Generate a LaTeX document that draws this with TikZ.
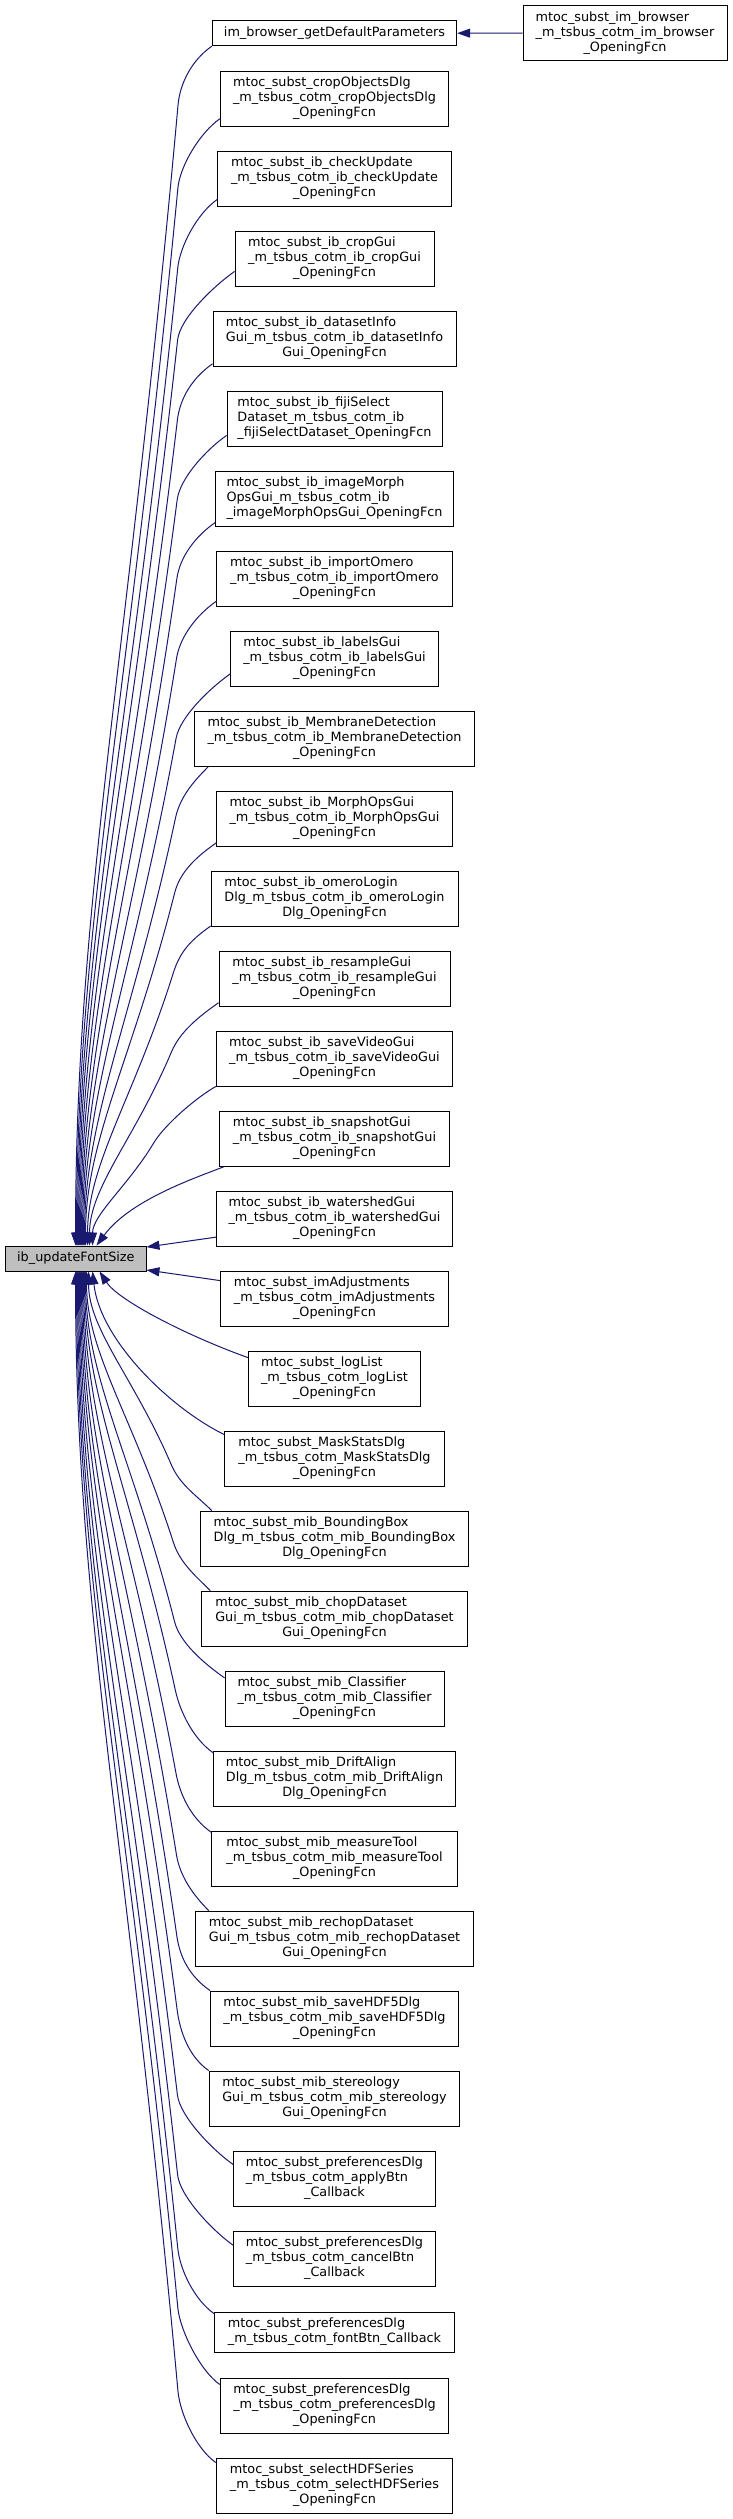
\documentclass[tikz,border=0pt]{standalone}
\usepackage{fontspec}
\newfontfamily\dejavu{DejaVu Sans}
\usetikzlibrary{arrows.meta,calc}
\definecolor{edgeblue}{HTML}{191970}
\definecolor{rootgray}{HTML}{BFBFBF}
\newcommand\threel[3]{\begin{tabular}{@{}l@{}}#1\\#2\\\multicolumn{1}{@{}c@{}}{#3}\end{tabular}}
\newcommand\twol[2]{\begin{tabular}{@{}l@{}}#1\\\multicolumn{1}{@{}c@{}}{#2}\end{tabular}}
\newcommand\edgeup[4]{%
  \coordinate (eS) at #1;
  \coordinate (eA) at #3;
  \coordinate (eE) at #4;
  \coordinate (eW) at ($(eA)!22pt!(eE)$);
  \coordinate (eM) at ($(eA)!0.5!(eE)$);
  \coordinate (eV) at (eE |- eW);
  \coordinate (eN) at ($(eE)!0.3!(eV)$);
  \draw[conn] (eS) .. controls ($(eS)+#2$) and (eA) .. (eW) .. controls (eM) and (eN) .. (eE);
}
\begin{document}
\begin{tikzpicture}[x=1pt,y=-1pt,
  gbox/.style={draw=black, line width=0.9pt, fill=white, inner sep=0pt, anchor=center,
    font=\dejavu\fontsize{12.8}{15}\selectfont, minimum height=55pt},
  conn/.style={draw=edgeblue, line width=1pt, -{Triangle[length=13pt,width=9pt]}}]
\useasboundingbox (0,0) rectangle (733,2519);
\fill[white] (0,0) rectangle (733,2519);

\node[gbox, fill=rootgray, minimum width=140.3pt, minimum height=25pt] (root) at (75.85,1258.5) {ib\_updateFontSize};
\node[gbox, minimum width=204pt] (n0) at (625,33) {\threel{mtoc\_subst\_im\_browser}{\_m\_tsbus\_cotm\_im\_browser}{\_OpeningFcn}};
\node[gbox, minimum width=244.4pt, minimum height=25pt] (n1) at (334.5,33.2) {im\_browser\_getDefaultParameters};
\node[gbox, minimum width=228.4pt] (n2) at (334.5,98.5) {\threel{mtoc\_subst\_cropObjectsDlg}{\_m\_tsbus\_cotm\_cropObjectsDlg}{\_OpeningFcn}};
\node[gbox, minimum width=233.6pt] (n3) at (334.5,178.5) {\threel{mtoc\_subst\_ib\_checkUpdate}{\_m\_tsbus\_cotm\_ib\_checkUpdate}{\_OpeningFcn}};
\node[gbox, minimum width=199pt] (n4) at (334.5,258.5) {\threel{mtoc\_subst\_ib\_cropGui}{\_m\_tsbus\_cotm\_ib\_cropGui}{\_OpeningFcn}};
\node[gbox, minimum width=243pt] (n5) at (334.5,338.5) {\threel{mtoc\_subst\_ib\_datasetInfo}{Gui\_m\_tsbus\_cotm\_ib\_datasetInfo}{Gui\_OpeningFcn}};
\node[gbox, minimum width=215pt] (n6) at (334.5,418.5) {\threel{mtoc\_subst\_ib\_fijiSelect}{Dataset\_m\_tsbus\_cotm\_ib}{\_fijiSelectDataset\_OpeningFcn}};
\node[gbox, minimum width=237.6pt] (n7) at (334.5,498.5) {\threel{mtoc\_subst\_ib\_imageMorph}{OpsGui\_m\_tsbus\_cotm\_ib}{\_imageMorphOpsGui\_OpeningFcn}};
\node[gbox, minimum width=235.3pt] (n8) at (334.5,578.5) {\threel{mtoc\_subst\_ib\_importOmero}{\_m\_tsbus\_cotm\_ib\_importOmero}{\_OpeningFcn}};
\node[gbox, minimum width=207.3pt] (n9) at (334.5,658.5) {\threel{mtoc\_subst\_ib\_labelsGui}{\_m\_tsbus\_cotm\_ib\_labelsGui}{\_OpeningFcn}};
\node[gbox, minimum width=280.4pt] (n10) at (334.5,738.5) {\threel{mtoc\_subst\_ib\_MembraneDetection}{\_m\_tsbus\_cotm\_ib\_MembraneDetection}{\_OpeningFcn}};
\node[gbox, minimum width=235.3pt] (n11) at (334.5,818.5) {\threel{mtoc\_subst\_ib\_MorphOpsGui}{\_m\_tsbus\_cotm\_ib\_MorphOpsGui}{\_OpeningFcn}};
\node[gbox, minimum width=247pt] (n12) at (334.5,898.5) {\threel{mtoc\_subst\_ib\_omeroLogin}{Dlg\_m\_tsbus\_cotm\_ib\_omeroLogin}{Dlg\_OpeningFcn}};
\node[gbox, minimum width=231pt] (n13) at (334.5,978.5) {\threel{mtoc\_subst\_ib\_resampleGui}{\_m\_tsbus\_cotm\_ib\_resampleGui}{\_OpeningFcn}};
\node[gbox, minimum width=236.4pt] (n14) at (334.5,1058.5) {\threel{mtoc\_subst\_ib\_saveVideoGui}{\_m\_tsbus\_cotm\_ib\_saveVideoGui}{\_OpeningFcn}};
\node[gbox, minimum width=229.6pt] (n15) at (334.5,1138.5) {\threel{mtoc\_subst\_ib\_snapshotGui}{\_m\_tsbus\_cotm\_ib\_snapshotGui}{\_OpeningFcn}};
\node[gbox, minimum width=236.4pt] (n16) at (334.5,1218.5) {\threel{mtoc\_subst\_ib\_watershedGui}{\_m\_tsbus\_cotm\_ib\_watershedGui}{\_OpeningFcn}};
\node[gbox, minimum width=228.4pt] (n17) at (334.5,1298.5) {\threel{mtoc\_subst\_imAdjustments}{\_m\_tsbus\_cotm\_imAdjustments}{\_OpeningFcn}};
\node[gbox, minimum width=172.4pt] (n18) at (334.5,1378.5) {\threel{mtoc\_subst\_logList}{\_m\_tsbus\_cotm\_logList}{\_OpeningFcn}};
\node[gbox, minimum width=219.6pt] (n19) at (334.5,1458.5) {\threel{mtoc\_subst\_MaskStatsDlg}{\_m\_tsbus\_cotm\_MaskStatsDlg}{\_OpeningFcn}};
\node[gbox, minimum width=267.3pt] (n20) at (334.5,1538.5) {\threel{mtoc\_subst\_mib\_BoundingBox}{Dlg\_m\_tsbus\_cotm\_mib\_BoundingBox}{Dlg\_OpeningFcn}};
\node[gbox, minimum width=265.6pt] (n21) at (334.5,1618.5) {\threel{mtoc\_subst\_mib\_chopDataset}{Gui\_m\_tsbus\_cotm\_mib\_chopDataset}{Gui\_OpeningFcn}};
\node[gbox, minimum width=219pt] (n22) at (334.5,1698.5) {\threel{mtoc\_subst\_mib\_Classifier}{\_m\_tsbus\_cotm\_mib\_Classifier}{\_OpeningFcn}};
\node[gbox, minimum width=241.6pt] (n23) at (334.5,1778.5) {\threel{mtoc\_subst\_mib\_DriftAlign}{Dlg\_m\_tsbus\_cotm\_mib\_DriftAlign}{Dlg\_OpeningFcn}};
\node[gbox, minimum width=245.6pt] (n24) at (334.5,1858.5) {\threel{mtoc\_subst\_mib\_measureTool}{\_m\_tsbus\_cotm\_mib\_measureTool}{\_OpeningFcn}};
\node[gbox, minimum width=278.7pt] (n25) at (334.5,1938.5) {\threel{mtoc\_subst\_mib\_rechopDataset}{Gui\_m\_tsbus\_cotm\_mib\_rechopDataset}{Gui\_OpeningFcn}};
\node[gbox, minimum width=248pt] (n26) at (334.5,2018.5) {\threel{mtoc\_subst\_mib\_saveHDF5Dlg}{\_m\_tsbus\_cotm\_mib\_saveHDF5Dlg}{\_OpeningFcn}};
\node[gbox, minimum width=250.7pt] (n27) at (334.5,2098.5) {\threel{mtoc\_subst\_mib\_stereology}{Gui\_m\_tsbus\_cotm\_mib\_stereology}{Gui\_OpeningFcn}};
\node[gbox, minimum width=201.6pt] (n28) at (334.5,2178.5) {\threel{mtoc\_subst\_preferencesDlg}{\_m\_tsbus\_cotm\_applyBtn}{\_Callback}};
\node[gbox, minimum width=201.6pt] (n29) at (334.5,2258.5) {\threel{mtoc\_subst\_preferencesDlg}{\_m\_tsbus\_cotm\_cancelBtn}{\_Callback}};
\node[gbox, minimum width=239.3pt, minimum height=40pt] (n30) at (334.5,2332) {\twol{mtoc\_subst\_preferencesDlg}{\_m\_tsbus\_cotm\_fontBtn\_Callback}};
\node[gbox, minimum width=228.4pt] (n31) at (334.5,2405.5) {\threel{mtoc\_subst\_preferencesDlg}{\_m\_tsbus\_cotm\_preferencesDlg}{\_OpeningFcn}};
\node[gbox, minimum width=236.4pt] (n32) at (334.5,2485.5) {\threel{mtoc\_subst\_selectHDFSeries}{\_m\_tsbus\_cotm\_selectHDFSeries}{\_OpeningFcn}};

% im_browser -> getDefaultParameters
\draw[conn] (n0.west) -- (n1.east);

% callers above the root
\edgeup{(n1.south west)}{(-20,14)}{(180,83)}{($(root.north west)+(70.3,0)$)}
\edgeup{($(n2.south west)+(0,-7.7)$)}{(-20,14)}{(180,166)}{($(root.north west)+(71.3,0)$)}
\edgeup{($(n3.south west)+(0,-7)$)}{(-20,14)}{(180,246)}{($(root.north west)+(72.3,0)$)}
\edgeup{($(n4.south west)+(0,-15)$)}{(-20,14)}{(180,318)}{($(root.north west)+(73.3,0)$)}
\edgeup{($(n5.south west)+(0,-2.7)$)}{(-20,14)}{(180,398)}{($(root.north west)+(74.3,0)$)}
\edgeup{($(n6.south west)+(0,-11)$)}{(-20,14)}{(180,478)}{($(root.north west)+(75.3,0)$)}
\edgeup{($(n7.south west)+(0,-4)$)}{(-20,14)}{(180,556.7)}{($(root.north west)+(76.3,0)$)}
\edgeup{($(n8.south west)+(0,-5.3)$)}{(-20,14)}{(180,636.7)}{($(root.north west)+(77.3,0)$)}
\edgeup{($(n9.south west)+(0,-12.7)$)}{(-20,14)}{(180,716.7)}{($(root.north west)+(78.3,0)$)}
\edgeup{($(n10.south west)+(14.7,0)$)}{(-15,15)}{(180,796.7)}{($(root.north west)+(79.3,0)$)}
\edgeup{($(n11.south west)+(0,-3.7)$)}{(-20,14)}{(180,871.7)}{($(root.north west)+(80.3,0)$)}
\edgeup{($(n12.south west)+(0,-0.3)$)}{(-20,14)}{(180,951.7)}{($(root.north west)+(82.3,0)$)}
\edgeup{($(n13.south west)+(0,-3.7)$)}{(-20,14)}{(180,1031.7)}{($(root.north west)+(84.3,0)$)}
\edgeup{(n14.south west)}{(-18,10)}{(165,1124)}{($(root.north west)+(87.3,0)$)}
\draw[conn] ($(n15.south west)+(5.3,0)$) .. controls (195,1178) and (130,1200) .. ($(root.north west)+(91.3,0)$);
\draw[conn] ($(n16.south west)+(0,-9.3)$) -- ($(root.north east)+(0,1.5)$);
\draw[conn] ($(n17.north west)+(0,10)$) -- ($(root.south east)+(0,-1.5)$);

% callers below the root
\draw[conn] ($(n18.north west)+(0,7)$) .. controls (185,1335) and (118,1300) .. ($(root.south west)+(94.3,0)$);
\draw[conn] ($(n19.north west)+(0,4)$) .. controls (170,1408) and (100,1340) .. ($(root.south west)+(87.3,0)$);
\edgeup{($(n20.north west)+(11.3,0)$)}{(-15,-15)}{(180,1485)}{($(root.south west)+(83.3,0)$)}
\edgeup{($(n21.north west)+(9,0)$)}{(-15,-15)}{(180,1563)}{($(root.south west)+(81.3,0)$)}
\edgeup{($(n22.north west)+(0,7.3)$)}{(-20,-14)}{(180,1643)}{($(root.south west)+(80.3,0)$)}
\edgeup{($(n23.north west)+(0,2.3)$)}{(-20,-14)}{(180,1711.7)}{($(root.south west)+(79.3,0)$)}
\edgeup{($(n24.north west)+(0,1.7)$)}{(-20,-14)}{(180,1795)}{($(root.south west)+(78.3,0)$)}
\edgeup{($(n25.north west)+(14,0)$)}{(-15,-15)}{(180,1876.7)}{($(root.south west)+(77.3,0)$)}
\edgeup{(n26.north west)}{(-20,-14)}{(180,1958)}{($(root.south west)+(76.3,0)$)}
\edgeup{(n27.north west)}{(-20,-14)}{(180,2031.7)}{($(root.south west)+(75.3,0)$)}
\edgeup{($(n28.north west)+(0,14)$)}{(-20,-14)}{(180,2116.7)}{($(root.south west)+(74.3,0)$)}
\edgeup{($(n29.north west)+(0,14.7)$)}{(-20,-14)}{(180,2196.7)}{($(root.south west)+(73.3,0)$)}
\edgeup{($(n30.north west)+(0,2.3)$)}{(-20,-14)}{(180,2270)}{($(root.south west)+(72.3,0)$)}
\edgeup{($(n31.north west)+(0,7)$)}{(-20,-14)}{(180,2330)}{($(root.south west)+(71.3,0)$)}
\edgeup{($(n32.north west)+(0,5)$)}{(-20,-14)}{(180,2413.3)}{($(root.south west)+(70.3,0)$)}
\end{tikzpicture}
\end{document}
